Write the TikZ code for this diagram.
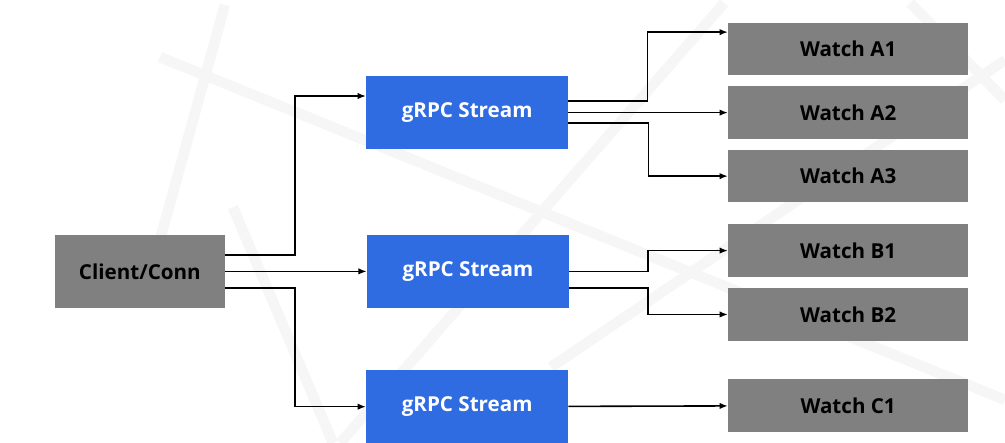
\documentclass[tikz,border=0pt]{standalone}
\usepackage{fontspec}
\setmainfont{Open Sans}
\usepackage{tikz}
\usetikzlibrary{arrows.meta,positioning,calc}
\usepackage{xcolor}
\definecolor{connGray}{RGB}{128,128,128}
\definecolor{streamBlue}{RGB}{48,108,225}
\definecolor{watermark}{RGB}{246,246,246}
\tikzset{
    every node/.append style={align=center},
    box/.style={rectangle,inner sep=0pt,font=\bfseries\fontsize{15.5}{18}\selectfont},
    conn/.style={box,fill=connGray,text=black,minimum width=4.50cm,minimum height=1.93cm},
    stream/.style={box,fill=streamBlue,text=white,minimum width=5.34cm,minimum height=1.93cm},
    watch/.style={box,fill=connGray,text=black,minimum width=6.35cm,minimum height=1.39cm},
    arr/.style={-{Latex[length=2.2mm,width=1.7mm]},line width=1.2pt},
    wm/.style={draw=watermark,line width=0.28cm}
}
\begin{document}
\begin{tikzpicture}
    \useasboundingbox (0,0) rectangle (26.59,-11.72);

    % faint background strokes
    \begin{scope}
        \clip (0,0) rectangle (26.59,-11.72);
        \draw[wm] (4.23,-1.51) -- (26.59,-10.58);
        \draw[wm] (19.16,-0.08) -- (9.0,-11.72);
        \draw[wm] (24.08,-0.08) -- (26.59,-2.65);
        \draw[wm] (26.59,-1.59) -- (14.58,-9.71);
        \draw[wm] (5.95,-0.13) -- (4.23,-6.35);
        \draw[wm] (6.16,-5.48) -- (8.81,-11.72);
    \end{scope}

    \node[conn]   (client) at ( 3.70,-7.18)  {Client/Conn};
    \node[stream] (s1)     at (12.36,-2.98)  {gRPC Stream};
    \node[stream] (s2)     at (12.38,-7.18)  {gRPC Stream};
    \node[stream] (s3)     at (12.36,-10.76) {gRPC Stream};
    \node[watch]  (wa1)    at (22.44,-1.30)  {Watch A1};
    \node[watch]  (wa2)    at (22.44,-2.98)  {Watch A2};
    \node[watch]  (wa3)    at (22.44,-4.66)  {Watch A3};
    \node[watch]  (wb1)    at (22.44,-6.63)  {Watch B1};
    \node[watch]  (wb2)    at (22.44,-8.32)  {Watch B2};
    \node[watch]  (wc1)    at (22.44,-10.73) {Watch C1};

    \draw[arr] ($(client.east)+(0,0.44)$) -- ++(1.85,0) |- ($(s1.west)+(0,0.44)$);
    \draw[arr] (client) -- (s2);
    \draw[arr] ($(client.east)+(0,-0.44)$) -- ++(1.85,0) |- (s3.west);

    \draw[arr] ($(s1.east)+(0,0.30)$) -- ++(2.09,0) |- ($(wa1.west)+(0,0.45)$);
    \draw[arr] (s1) -- (wa2);
    \draw[arr] ($(s1.east)+(0,-0.28)$) -- ++(2.12,0) |- (wa3.west);

    \draw[arr] (s2.east) -- ++(2.09,0) |- (wb1.west);
    \draw[arr] ($(s2.east)+(0,-0.44)$) -- ++(2.09,0) |- (wb2.west);

    \draw[arr] (s3) -- (wc1);
\end{tikzpicture}
\end{document}
